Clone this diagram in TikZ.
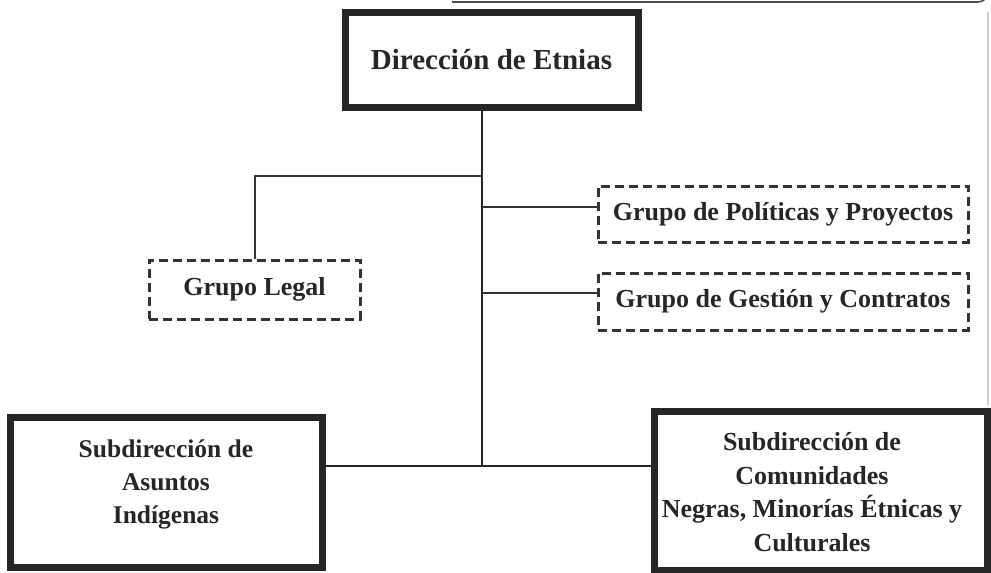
\documentclass[tikz,border=0pt]{standalone}
\usepackage{fontspec}
\setmainfont{Liberation Serif}
\begin{document}
\begin{tikzpicture}[x=1pt,y=-1pt,
  thickbox/.style={draw=black!85, line width=7pt, fill=white, inner sep=0pt, align=center, font=\fontsize{25}{33}\selectfont\bfseries},
  dashbox/.style={draw=black!80, line width=3pt, dash pattern=on 9pt off 5pt, inner sep=0pt, align=center, font=\fontsize{26}{30}\selectfont\bfseries, text=black!85},
  boxtext/.style={align=center, text=black!85},
  conn/.style={draw=black!80, line width=2pt},
  trunk/.style={draw=black!85, line width=2.8pt}]
\useasboundingbox (0,0) rectangle (991,573);
% frame line
\draw[black!70, line width=1.6pt] (452,2) -- (978,2) arc[start angle=90, end angle=0, radius=10];
\draw[black!20, line width=1.2pt] (988,12) -- (988,405);
% nodes
\node[thickbox, minimum width=293pt, minimum height=95pt, font=\fontsize{29}{34}\selectfont\bfseries, text=black!85] (dir) at (491.5,59.5) {Dirección de Etnias};
\node[dashbox, minimum width=211pt, minimum height=59pt] (legal) at (254.5,289.5) {Grupo Legal};
\node[dashbox, minimum width=370pt, minimum height=56pt] (pol) at (783,214) {Grupo de Políticas y Proyectos};
\node[dashbox, minimum width=370pt, minimum height=57pt] (ges) at (783,301.5) {Grupo de Gestión y Contratos};
\node[thickbox, minimum width=312pt, minimum height=150pt] (sai) at (166,492) {};
\node[thickbox, minimum width=333pt, minimum height=159pt] (scn) at (820.5,490.5) {};
\node[boxtext, font=\fontsize{25.5}{33}\selectfont\bfseries] (saitxt) at (166,484) {Subdirección de\\Asuntos\\Indígenas};
\node[boxtext, font=\fontsize{26}{33.5}\selectfont\bfseries] (scntxt) at (812,492) {Subdirección de\\Comunidades\\Negras, Minorías Étnicas y\\Culturales};
% connectors
\coordinate (j) at (482,466);
\coordinate (jl) at (482,176);
\coordinate (jp) at (482,207);
\coordinate (jg) at (482,293);
\draw[trunk] (dir.south -| j) -- (j);
\draw[trunk] (j -| sai.east) -- (j -| scn.west);
\draw[conn] (jl) -| (legal.north);
\draw[conn] (jp) -- (jp -| pol.west);
\draw[conn] (jg) -- (jg -| ges.west);
\end{tikzpicture}
\end{document}
